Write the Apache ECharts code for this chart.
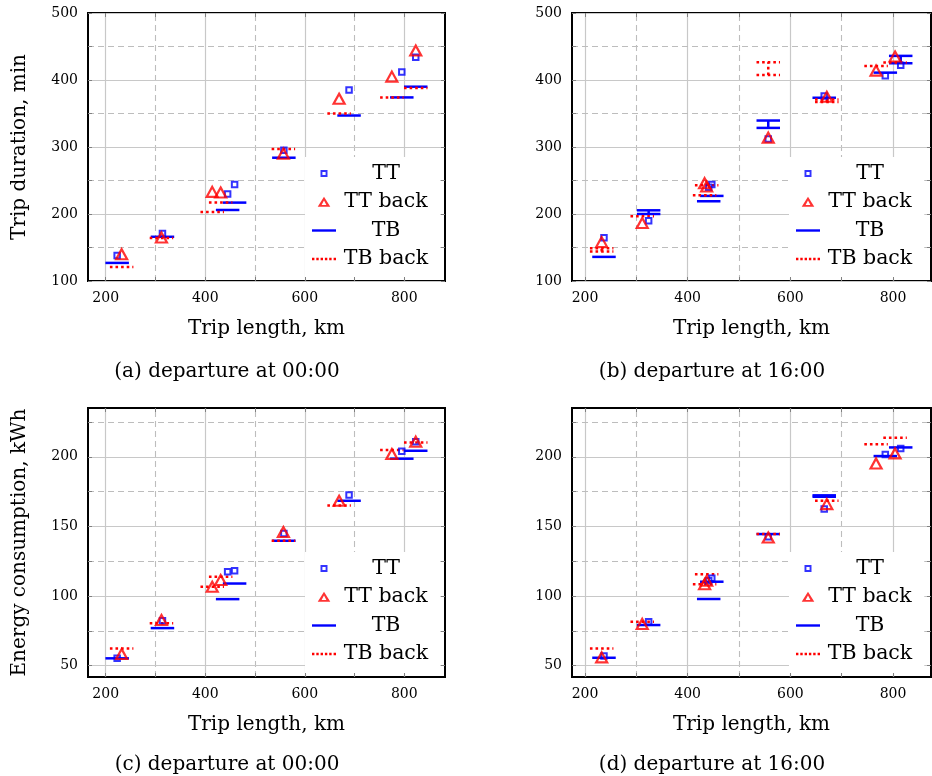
<!DOCTYPE html>
<html>
<head>
<meta charset="utf-8">
<title>Trip duration / energy consumption</title>
<script src="https://cdn.jsdelivr.net/npm/echarts@6/dist/echarts.min.js"></script>
<style>
html, body { margin: 0; padding: 0; background: #fff; }
#main { width: 932px; height: 776px; }
</style>
</head>
<body>
<div id="main"></div>
<script>
// 刻度
var lenTicks = [200, 300, 400, 500, 600, 700, 800];
var lenLabels = [200, 400, 600, 800];
var durTicks = [100, 150, 200, 250, 300, 350, 400, 450, 500];
var durLabels = [100, 200, 300, 400, 500];
var energyTicks = [50, 75, 100, 125, 150, 175, 200, 225];
var energyLabels = [50, 100, 150, 200];

// 坐标范围
var lenRange00 = [164.4, 881.8];
var lenRange16 = [174.7, 874];
var durRange = [100, 500];
var energyRange = [41.9, 235];

// 出发 00:00
var ttLen00 = [223, 314, 445, 459, 558, 689, 795, 823];
var ttDur00 = [138, 171, 230, 244, 295, 385, 412, 434];
var backLen00 = [232, 312, 414, 431, 557, 669, 775, 823];
var backDur00 = [140, 165, 233, 232, 290, 372, 405, 444];
var tbDur00 = [127, 166, 206, 217, 284, 347, 374, 390];
var tbBackDur00 = [121, 164, 203, 217, 297, 350, 374, 388];
var ttEnergy00 = [55.3, 82.3, 117.5, 118.2, 145, 172.5, 204, 210.8];
var backEnergy00 = [58.4, 82.8, 106.7, 111.5, 146, 168.4, 202, 210.8];
var tbEnergy00 = [55.3, 77, 97.8, 109, 139.7, 168.4, 198.6, 204.3];
var tbBackEnergy00 = [62.4, 80.4, 106.7, 113.9, 139.7, 165, 204.8, 210.3];

// 出发 16:00
var ttLen16 = [237, 324, 441, 447, 557, 666, 785, 815];
var ttDur16 = [164.5, 190, 240, 244, 312, 376, 406.5, 422];
var backLen16 = [232.5, 311.5, 433, 437, 557, 671, 767, 804];
var backDur16 = [158, 186.5, 246, 241, 314, 375, 414, 435];
var tbDurLow16 = [136, 200, 219, 227, 328.5, 373.5, 411, 425];
var tbDurHigh16 = [136, 205.5, 219, 227, 339.5, 373.5, 411, 436];
var tbBackDurLow16 = [144, 196.5, 228, 243, 407.5, 367, 421, 426];
var tbBackDurHigh16 = [149, 196.5, 228, 243, 426.5, 371, 421, 426];
var ttEnergy16 = [57, 81.6, 111, 112.7, 142.6, 162.5, 201.7, 206];
var backEnergy16 = [56, 80, 108.5, 111, 142, 166, 195.2, 202.4];
var tbEnergyLow16 = [55.7, 79.2, 97.9, 110.3, 144.5, 171.3, 200.5, 206.7];
var tbEnergyHigh16 = [55.7, 79.2, 97.9, 110.3, 144.5, 172.3, 200.5, 206.7];
var tbBackEnergy16 = [62.4, 81.6, 108.4, 115.6, 144.5, 168.4, 208.9, 213.6];

var BLUE = '#0000ff';
var RED = '#ff0000';
var FONT = "'DejaVu Serif', serif";

function points(xs, ys) {
    return xs.map(function (x, i) { return [x, ys[i]]; });
}
function bars(xs, lows, highs) {
    return xs.map(function (x, i) { return [x, lows[i], highs[i]]; });
}

var panels = [
    { len: lenRange00, lenTicks: lenTicks, val: durRange, yTicks: durTicks, yLabels: durLabels, yName: 'Trip duration, min',
      tt: points(ttLen00, ttDur00), back: points(backLen00, backDur00),
      tb: bars(ttLen00, tbDur00, tbDur00), tbBack: bars(backLen00, tbBackDur00, tbBackDur00),
      caption: '(a) departure at 00:00' },
    { len: lenRange16, lenTicks: lenTicks, val: durRange, yTicks: durTicks, yLabels: durLabels, yName: '',
      tt: points(ttLen16, ttDur16), back: points(backLen16, backDur16),
      tb: bars(ttLen16, tbDurLow16, tbDurHigh16), tbBack: bars(backLen16, tbBackDurLow16, tbBackDurHigh16),
      caption: '(b) departure at 16:00' },
    { len: lenRange00, lenTicks: lenTicks, val: energyRange, yTicks: energyTicks, yLabels: energyLabels, yName: 'Energy consumption, kWh',
      tt: points(ttLen00, ttEnergy00), back: points(backLen00, backEnergy00),
      tb: bars(ttLen00, tbEnergy00, tbEnergy00), tbBack: bars(backLen00, tbBackEnergy00, tbBackEnergy00),
      caption: '(c) departure at 00:00' },
    { len: lenRange16, lenTicks: lenTicks, val: energyRange, yTicks: energyTicks, yLabels: energyLabels, yName: '',
      tt: points(ttLen16, ttEnergy16), back: points(backLen16, backEnergy16),
      tb: bars(ttLen16, tbEnergyLow16, tbEnergyHigh16), tbBack: bars(backLen16, tbBackEnergy16, tbBackEnergy16),
      caption: '(d) departure at 16:00' }
];

// 版面位置
var layout = [
    { grid: { left: 88, top: 13, width: 357, height: 268 }, legend: [305, 157], caption: [227, 372] },
    { grid: { left: 572, top: 13, width: 359, height: 268 }, legend: [789, 157], caption: [712, 372] },
    { grid: { left: 88, top: 408, width: 357, height: 269 }, legend: [305, 552], caption: [227, 765] },
    { grid: { left: 572, top: 408, width: 359, height: 269 }, legend: [789, 552], caption: [712, 765] }
];

// 图例图标 (24x14)
var iconSquare = 'path://M0,0L0,0M24,14L24,14M8.5,3.5H15.5V10.5H8.5ZM10.4,5.4V8.6H13.6V5.4Z';
var iconTriangle = 'path://M0,0L0,0M24,14L24,14M12,1.8L18.3,11.8L5.7,11.8ZM12,5.6L9.6,9.9L14.4,9.9Z';
var iconLine = 'path://M0,0L0,0M24,14L24,14M0,5.8H24V8.2H0Z';
var iconDots = 'path://M0,0L0,0M24,14L24,14M0,5.8H2.4V8.2H0ZM4.3,5.8H6.7V8.2H4.3ZM8.6,5.8H11V8.2H8.6Z' +
    'M12.9,5.8H15.3V8.2H12.9ZM17.2,5.8H19.6V8.2H17.2ZM21.6,5.8H24V8.2H21.6Z';

var legendItems = [
    { name: 'TT', icon: iconSquare, itemStyle: { color: BLUE, borderWidth: 0 } },
    { name: 'TT back', icon: iconTriangle, itemStyle: { color: RED, borderWidth: 0 } },
    { name: 'TB', icon: iconLine, itemStyle: { color: BLUE, borderWidth: 0 } },
    { name: 'TB back', icon: iconDots, itemStyle: { color: RED, borderWidth: 0 } }
];

var SOLID = { color: '#c8c8c8', width: 1.2, type: 'solid' };
var DASHED = { color: '#bdbdbd', width: 1.1, type: [6, 4] };

function gridLines(xTicks, xLabels, yTicks, yLabels) {
    var out = [];
    xTicks.forEach(function (v) {
        out.push({ xAxis: v, lineStyle: xLabels.indexOf(v) >= 0 ? SOLID : DASHED });
    });
    yTicks.forEach(function (v) {
        out.push({ yAxis: v, lineStyle: yLabels.indexOf(v) >= 0 ? SOLID : DASHED });
    });
    return out;
}

function makeAxis(gridIndex, pos, range, ticks, labels, name, nameGap) {
    return {
        type: 'value', gridIndex: gridIndex, position: pos,
        min: range[0], max: range[1],
        axisLine: { show: false, onZero: false },
        splitLine: { show: false },
        axisTick: { show: true, inside: true, length: 4, customValues: ticks, lineStyle: { color: '#808080', width: 1 } },
        axisLabel: labels ? { show: true, customValues: labels, fontSize: 14, fontFamily: FONT, color: '#000', margin: 10 } : { show: false },
        name: name || '', nameLocation: 'middle', nameGap: nameGap || 0,
        nameTextStyle: { fontSize: 20, fontFamily: FONT, color: '#000' },
        z: 6
    };
}

// TB 误差线：上下两条横线 + 竖线
function errorBar(color, dash) {
    return function (params, api) {
        var x = api.value(0);
        var lo = api.coord([x, api.value(1)]);
        var hi = api.coord([x, api.value(2)]);
        var half = 11.75;
        var style = { stroke: color, lineWidth: 2.5, lineDash: dash, fill: null };
        var children = [
            { type: 'line', shape: { x1: lo[0] - half, y1: lo[1], x2: lo[0] + half, y2: lo[1] }, style: style }
        ];
        if (Math.abs(hi[1] - lo[1]) > 0.5) {
            children.push({ type: 'line', shape: { x1: hi[0] - half, y1: hi[1], x2: hi[0] + half, y2: hi[1] }, style: style });
            children.push({ type: 'line', shape: { x1: lo[0], y1: lo[1], x2: hi[0], y2: hi[1] }, style: style });
        }
        return { type: 'group', children: children };
    };
}

var option = {
    animation: false,
    textStyle: { fontFamily: FONT },
    grid: [], xAxis: [], yAxis: [], legend: [], series: [],
    graphic: { elements: [] }
};

panels.forEach(function (p, i) {
    var L = layout[i];
    var xi = 2 * i, yi = 2 * i;
    option.grid.push(Object.assign({ show: true, borderColor: '#000', borderWidth: 2, backgroundColor: 'transparent' }, L.grid));

    option.xAxis.push(makeAxis(i, 'bottom', p.len, p.lenTicks, lenLabels, 'Trip length, km', 38));
    option.xAxis.push(makeAxis(i, 'top', p.len, p.lenTicks, null));
    option.yAxis.push(makeAxis(i, 'left', p.val, p.yTicks, p.yLabels, p.yName, 58));
    option.yAxis.push(makeAxis(i, 'right', p.val, p.yTicks, null));

    option.series.push({
        type: 'scatter', xAxisIndex: xi, yAxisIndex: yi, data: [], silent: true, z: 1,
        markLine: { silent: true, z: 1, symbol: 'none', animation: false, label: { show: false },
            emphasis: { disabled: true },
            data: gridLines(p.lenTicks, lenLabels, p.yTicks, p.yLabels) }
    });
    option.series.push({
        name: 'TT', type: 'scatter', xAxisIndex: xi, yAxisIndex: yi, data: p.tt, z: 3, silent: true,
        symbol: 'rect', symbolSize: 5.5,
        itemStyle: { color: 'rgba(0,0,0,0)', borderColor: BLUE, borderWidth: 2 }
    });
    option.series.push({
        name: 'TT back', type: 'scatter', xAxisIndex: xi, yAxisIndex: yi, data: p.back, z: 3, silent: true,
        symbol: 'triangle', symbolSize: [11, 10],
        itemStyle: { color: 'rgba(0,0,0,0)', borderColor: RED, borderWidth: 2.2 }
    });
    option.series.push({
        name: 'TB', type: 'custom', xAxisIndex: xi, yAxisIndex: yi, data: p.tb, z: 3, silent: true,
        encode: { x: 0, y: [1, 2] }, itemStyle: { color: BLUE },
        renderItem: errorBar(BLUE, null)
    });
    option.series.push({
        name: 'TB back', type: 'custom', xAxisIndex: xi, yAxisIndex: yi, data: p.tbBack, z: 3, silent: true,
        encode: { x: 0, y: [1, 2] }, itemStyle: { color: RED },
        renderItem: errorBar(RED, [2.6, 3])
    });

    option.legend.push({
        left: L.legend[0], top: L.legend[1], orient: 'vertical',
        itemWidth: 24, itemHeight: 14, itemGap: 7.5, symbolKeepAspect: true,
        padding: [6, 12, 9, 7], backgroundColor: '#fff', borderWidth: 0,
        selectedMode: false, z: 5,
        formatter: '{c|{name}}',
        textStyle: { rich: { c: { width: 90, align: 'center', fontSize: 20.5, fontFamily: FONT, color: '#000' } } },
        data: legendItems
    });

    option.graphic.elements.push({
        type: 'text', x: L.caption[0], y: L.caption[1], silent: true,
        style: { text: p.caption, fontSize: 20, fontFamily: FONT, fill: '#000', align: 'center', verticalAlign: 'middle' }
    });
});

var chart = echarts.init(document.getElementById('main'));
chart.setOption(option);
</script>
</body>
</html>
